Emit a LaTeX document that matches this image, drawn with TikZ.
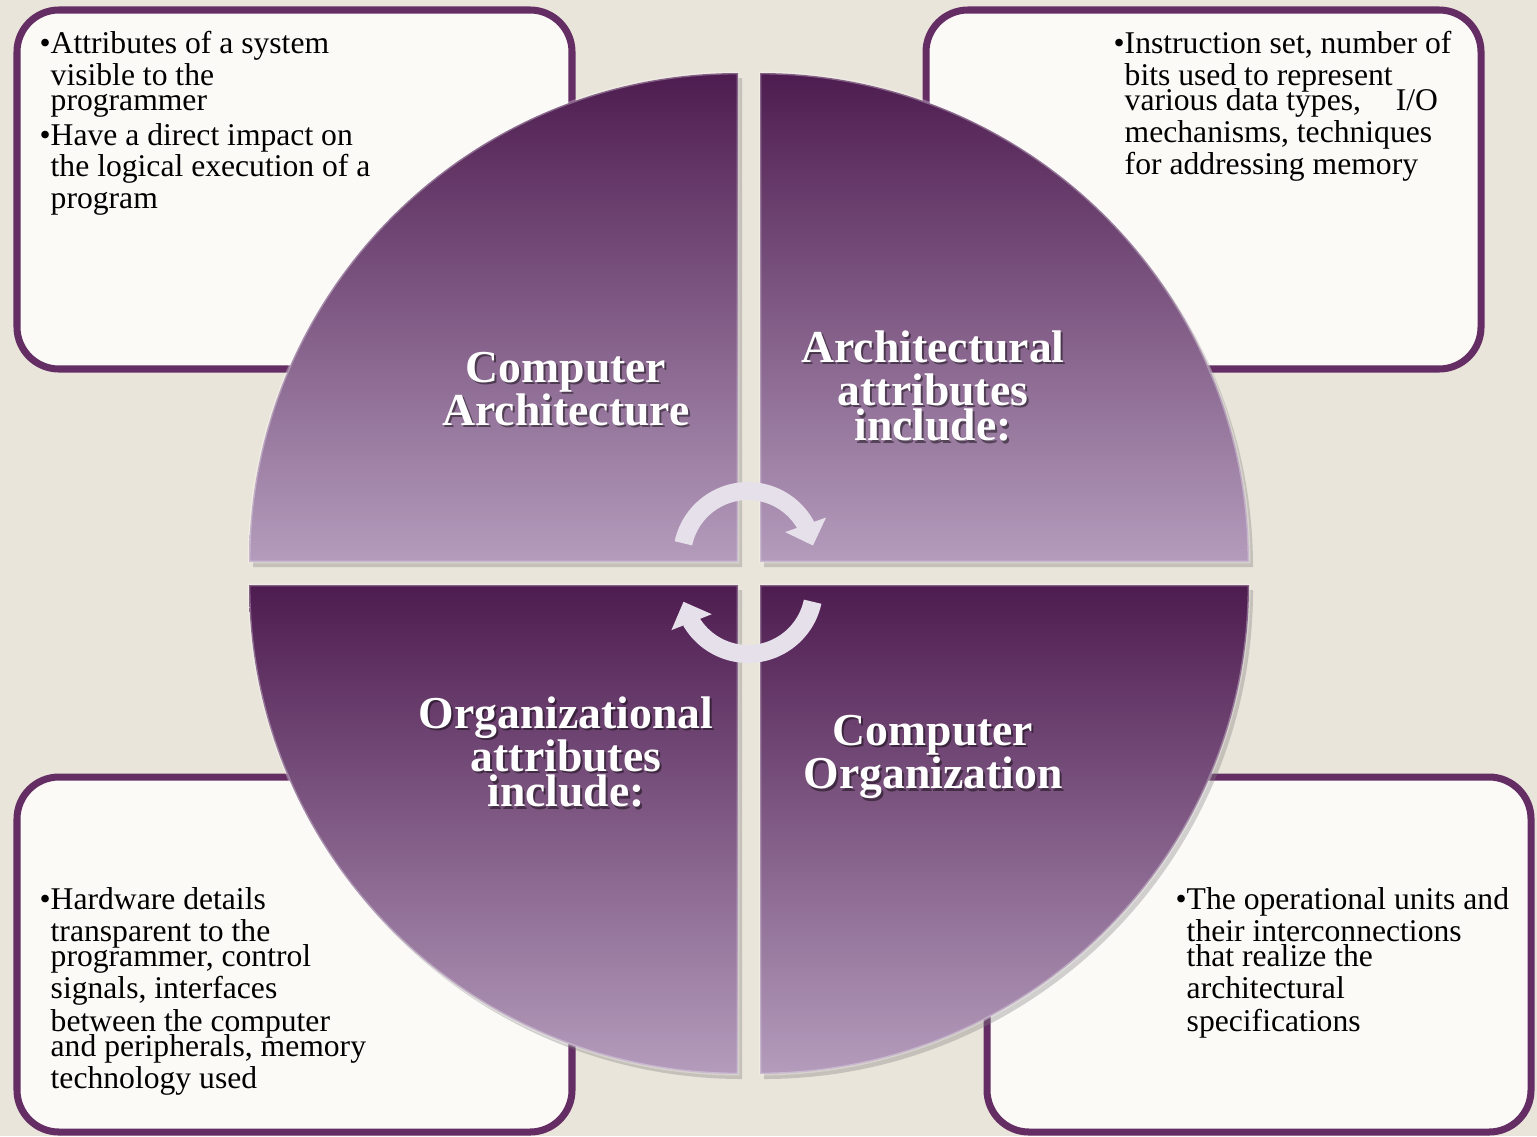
\documentclass[tikz,border=0pt]{standalone}
\usepackage{fontspec}
\setmainfont{Liberation Serif}
\usetikzlibrary{shadows,arrows.meta,bending}
\definecolor{fondo}{RGB}{234,229,218}
\definecolor{borde}{RGB}{100,45,100}
\definecolor{papel}{RGB}{251,250,247}
\definecolor{moradoosc}{RGB}{78,28,80}
\definecolor{moradocla}{RGB}{180,156,188}
\definecolor{flecha}{RGB}{230,224,234}
\newcommand\notefont{\fontsize{9}{9.1}\selectfont}
\newcommand\headfont{\bfseries\fontsize{13}{12.3}\selectfont}
\begin{document}
\begin{tikzpicture}[
    cuadro/.style={draw=borde, line width=2pt, fill=papel, rounded corners=0.42cm},
    sector/.style={top color=moradoosc, bottom color=moradocla,
        draw=white, draw opacity=0.3, line width=0.8pt,
        drop shadow={opacity=0.35, shadow xshift=0.04cm, shadow yshift=-0.05cm}},
    nota/.style={anchor=north west, inner sep=0pt, align=left, font=\notefont},
    titulo/.style={inner sep=0pt, align=center, font=\headfont, text=white},
    sombra/.style={titulo, text=black, text opacity=0.45},
    giro/.style={draw=flecha, line width=0.18cm, -{Triangle[width=0.42cm, length=0.22cm]}}
]
    % Fondo y margenes
    \useasboundingbox (0,0) rectangle (15.37,11.36);
    \fill[fondo] (0,0) rectangle (15.37,11.36);

    % Dibuja los cuadros de texto
    \draw[cuadro] (0.17,7.67) rectangle (5.72,11.26);
    \draw[cuadro] (9.26,7.67) rectangle (14.81,11.26);
    \draw[cuadro] (0.17,0.04) rectangle (5.72,3.59);
    \draw[cuadro] (9.87,0.04) rectangle (15.31,3.59);

    % Dibuja los cuatro sectores del circulo
    \path[sector] (7.38,5.74) -- (2.49,5.74) arc[start angle=180, end angle=90, radius=4.89] -- cycle;
    \path[sector] (7.60,5.74) -- (7.60,10.63) arc[start angle=90, end angle=0, radius=4.89] -- cycle;
    \path[sector] (7.38,5.51) -- (7.38,0.62) arc[start angle=270, end angle=180, radius=4.89] -- cycle;
    \path[sector] (7.60,5.51) -- (12.49,5.51) arc[start angle=0, end angle=-90, radius=4.89] -- cycle;

    % Flechas circulares del centro
    \draw[giro] (6.834,5.927) arc[start angle=168, end angle=10, radius=0.66];
    \draw[giro] (8.126,5.343) arc[start angle=-12, end angle=-168, radius=0.66];

    % Titulos de los sectores
    \node[sombra] (ca-s) at (5.68,7.445) {Computer\\Architecture};
    \node[titulo] (ca) at (5.66,7.47) {Computer\\Architecture};
    \node[sombra] (aa-s) at (9.35,7.475) {Architectural\\attributes\\[-2.2pt]include:};
    \node[titulo] (aa) at (9.33,7.50) {Architectural\\attributes\\[-2.2pt]include:};
    \node[sombra] (oa-s) at (5.68,3.815) {Organizational\\attributes\\[-2.2pt]include:};
    \node[titulo] (oa) at (5.66,3.84) {Organizational\\attributes\\[-2.2pt]include:};
    \node[sombra] (co-s) at (9.35,3.765) {Computer\\Organization};
    \node[titulo] (co) at (9.33,3.79) {Computer\\Organization};

    % Textos de los cuadros
    \node[nota] (arq) at (0.50,11.05) {\llap{\textbullet}Attributes of a system\\
        visible to the\\[-2pt]
        programmer\\[0.6pt]
        \llap{\textbullet}Have a direct impact on\\
        the logical execution of a\\
        program};
    \node[nota] (arqat) at (11.24,11.05) {\llap{\textbullet}Instruction set, number of\\
        bits used to represent\\[-2pt]
        various data types,\hspace{1.1em}I/O\\
        mechanisms, techniques\\
        for addressing memory};
    \node[nota] (orgat) at (0.50,2.49) {\llap{\textbullet}Hardware details\\
        transparent to the\\[-2pt]
        programmer, control\\
        signals, interfaces\\[0.4pt]
        between the computer\\[-2pt]
        and peripherals, memory\\
        technology used};
    \node[nota] (org) at (11.86,2.49) {\llap{\textbullet}The operational units and\\
        their interconnections\\[-2pt]
        that realize the\\
        architectural\\[0.4pt]
        specifications};
\end{tikzpicture}
\end{document}
